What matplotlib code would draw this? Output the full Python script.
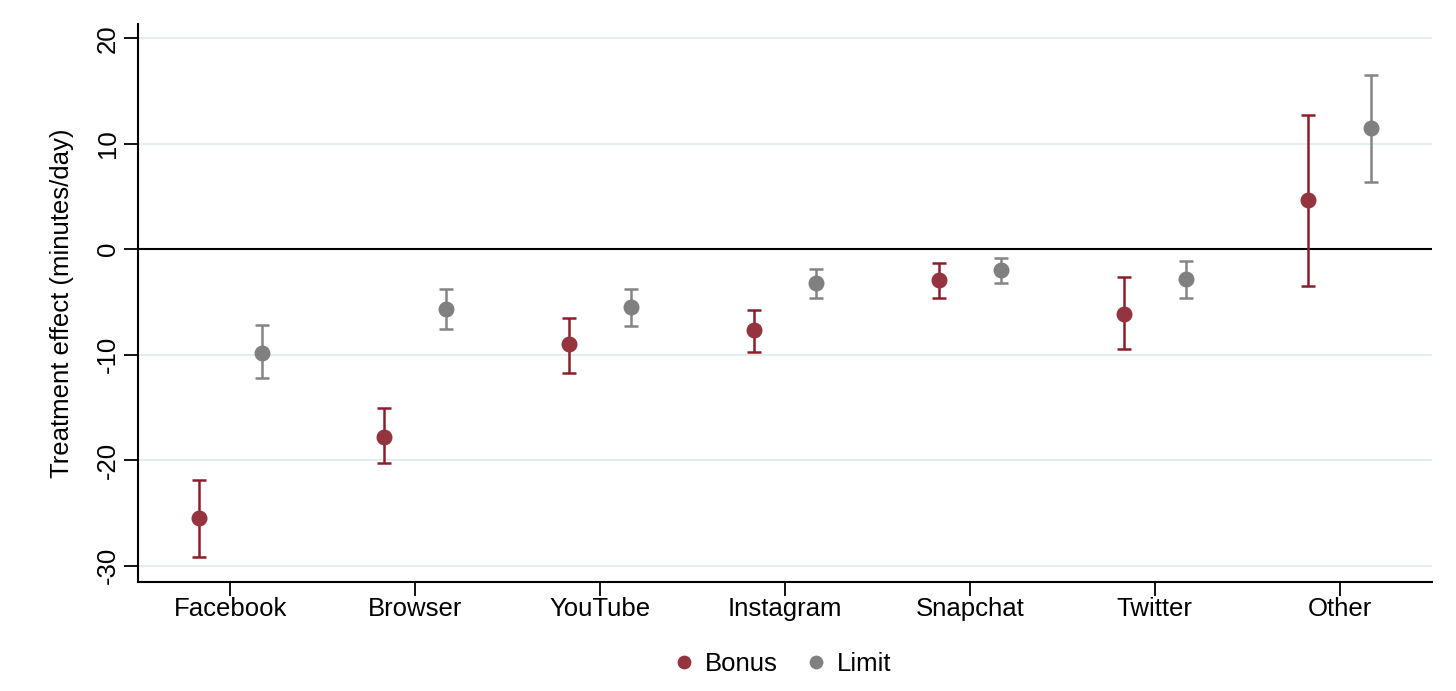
import matplotlib.pyplot as plt

plt.rcParams['font.family'] = ['Liberation Sans', 'DejaVu Sans']

apps = ['Facebook', 'Browser', 'YouTube', 'Instagram', 'Snapchat', 'Twitter', 'Other']

bonus = [-25.5, -17.8, -9.0, -7.7, -2.9, -6.1, 4.65]
bonus_lo = [-29.2, -20.3, -11.7, -9.7, -4.6, -9.5, -3.5]
bonus_hi = [-21.9, -15.1, -6.5, -5.8, -1.3, -2.6, 12.7]

limit = [-9.8, -5.7, -5.5, -3.2, -2.0, -2.8, 11.5]
limit_lo = [-12.25, -7.6, -7.3, -4.6, -3.2, -4.65, 6.4]
limit_hi = [-7.2, -3.8, -3.8, -1.9, -0.8, -1.1, 16.5]

yticks = [-30, -20, -10, 0, 10, 20]

fig = plt.figure(figsize=(14.56, 6.91), dpi=100)
ax = fig.add_axes([0.0948, 0.1577, 0.8887, 0.8076])

x = list(range(1, len(apps) + 1))
off = 0.168
xb = [i - off for i in x]
xl = [i + off for i in x]

for t in [-30, -20, -10, 10, 20]:
    ax.axhline(t, color='#e3eef0', lw=1.5, zorder=0)
ax.axhline(0, color='black', lw=1.5, zorder=1)

err_b = [[b - lo for b, lo in zip(bonus, bonus_lo)], [hi - b for b, hi in zip(bonus, bonus_hi)]]
err_l = [[v - lo for v, lo in zip(limit, limit_lo)], [hi - v for v, hi in zip(limit, limit_hi)]]

ax.errorbar(xb, bonus, yerr=err_b, fmt='none', ecolor='#8c1d2b', elinewidth=1.8,
            capsize=4.8, capthick=1.8, zorder=2)
ax.errorbar(xl, limit, yerr=err_l, fmt='none', ecolor='#858585', elinewidth=1.8,
            capsize=4.8, capthick=1.8, zorder=2)
ax.plot(xb, bonus, 'o', color='#94343f', ms=10.5, ls='none', label='Bonus', zorder=3)
ax.plot(xl, limit, 'o', color='#808080', ms=10.5, ls='none', label='Limit', zorder=3)

ax.set_xlim(0.5, 7.5)
ax.set_ylim(-31.55, 21.35)
ax.set_xticks(x)
ax.set_xticklabels(apps)
ax.set_yticks(yticks)
ax.set_yticklabels([str(t) for t in yticks], rotation=90, va='center')
ax.tick_params(axis='both', labelsize=18.5, length=10, width=1.3, direction='out')
ax.tick_params(axis='x', pad=1)
ax.tick_params(axis='y', pad=3)

for s in ['top', 'right']:
    ax.spines[s].set_visible(False)
for s in ['left', 'bottom']:
    ax.spines[s].set_linewidth(1.5)

ax.set_ylabel('Treatment effect (minutes/day)', fontsize=18.5, labelpad=16)

fig.legend(loc='lower center', bbox_to_anchor=(0.535, -0.012), ncol=2, frameon=False,
           fontsize=18.5, handletextpad=0.1, columnspacing=0.8, handlelength=1.4,
           markerscale=0.85)

fig.savefig('out.png', dpi=100)
